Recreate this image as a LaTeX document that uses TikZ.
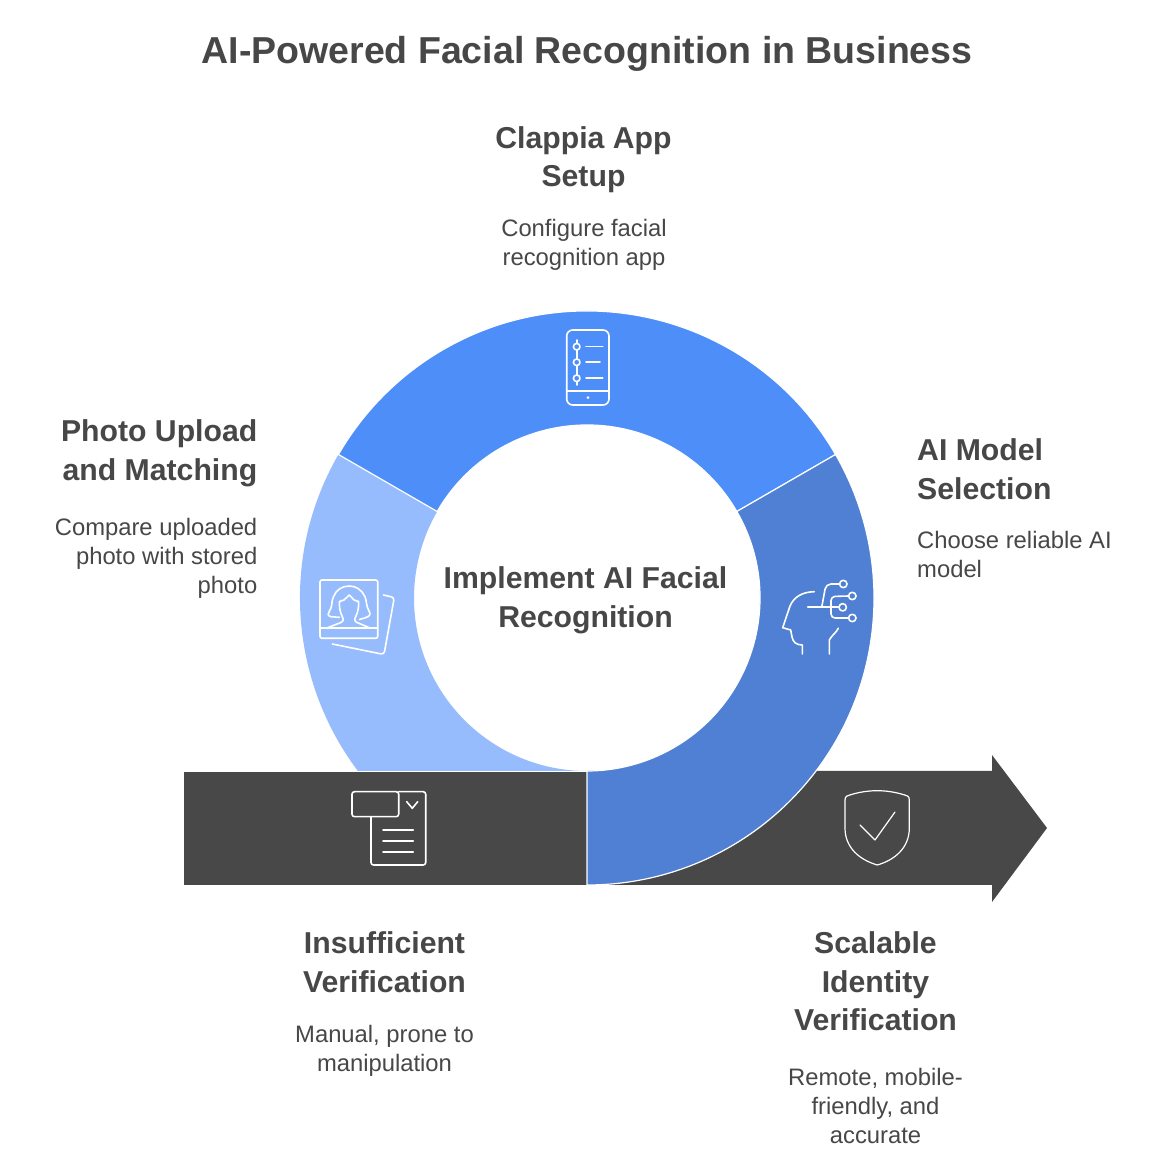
\documentclass[tikz,border=0pt]{standalone}
\usepackage{fontspec}
\setmainfont{Liberation Sans}
\definecolor{fcText}{HTML}{474747}
\definecolor{fcDark}{HTML}{484848}
\definecolor{fcTop}{HTML}{4E8EF9}
\definecolor{fcLeft}{HTML}{97BCFE}
\definecolor{fcRight}{HTML}{4F80D3}
\usetikzlibrary{positioning}
\tikzset{
  headtext/.style={font=\fontsize{30.2}{38.5}\selectfont\bfseries, text=fcText, inner sep=0pt},
  desctext/.style={font=\fontsize{23.8}{29}\selectfont, text=fcText, inner sep=0pt},
  iconline/.style={draw=white, line width=1.6pt, line cap=round, line join=round}
}
\begin{document}
\begin{tikzpicture}[x=1pt, y=1pt]
  \useasboundingbox (0,0) rectangle (1170,1172);
  \fill[white] (0,0) rectangle (1170,1172);
  % ring
  \fill[fcLeft] (587,574) ++(150:287) arc (150:270:287) -- ++(0,114) arc (270:150:173) -- cycle;
  \filldraw[fcTop, draw=white, line width=1.2pt] (587,574) ++(30:287) arc (30:150:287) -- ++(-30:114) arc (150:30:173) -- cycle;
  % bar and arrow
  \fill[fcDark] (587,401) -- (992,401) -- (992,417) -- (1047,344) -- (992,270) -- (992,287) -- (587,287) -- cycle;
  \filldraw[fcDark, draw=white, line width=0.4pt] (183,287) rectangle (587,401);
  \filldraw[fcRight, draw=white, line width=1.2pt] (587,574) ++(270:287) arc (-90:30:287) -- ++(210:114) arc (30:-90:173) -- cycle;
  % titles
  \node[font=\fontsize{37.5}{46}\selectfont\bfseries, text=fcText, inner sep=0pt] (title) at (587,1118) {AI-Powered Facial Recognition in Business};
  \node[headtext, align=center] (setuphead) at (583.5,1012.5) {Clappia App\\Setup};
  \node[desctext, align=center] (setupdesc) at (584,927) {Configure facial\\recognition app};
  \node[headtext, align=right, anchor=east] (photohead) at (257.5,718.5) {Photo Upload\\and Matching};
  \node[desctext, align=right, anchor=east] (photodesc) at (257.5,613.5) {Compare uploaded\\photo with stored\\photo};
  \node[headtext, align=left, anchor=west] (modelhead) at (917,703) {AI Model\\Selection};
  \node[desctext, align=left, anchor=west] (modeldesc) at (917,617) {Choose reliable AI\\model};
  \node[headtext, align=center] (centerhead) at (585.5,571.5) {Implement AI Facial\\Recognition};
  \node[headtext, align=center] (manualhead) at (384.5,210) {Insufficient\\Verification};
  \node[desctext, align=center] (manualdesc) at (384.5,121) {Manual, prone to\\manipulation};
  \node[headtext, align=center] (scalehead) at (875.5,190.5) {Scalable\\Identity\\Verification};
  \node[desctext, align=center] (scaledesc) at (875.5,66) {Remote, mobile-\\friendly, and\\accurate};
  % icons, page pixels
  \begin{scope}[shift={(0,1172)}, y=-1pt]
    % phone
    \draw[iconline, rounded corners=6pt] (566.7,330) -- (609,330) -- (609,405) -- (566.7,405) -- cycle;
    \draw[iconline] (566.7,391) -- (609,391);
    \fill[white] (588,397.7) circle (1.5);
    \draw[iconline] (576.7,340) -- (576.7,343.4) (576.7,350) -- (576.7,359) (576.7,365.6) -- (576.7,375) (576.7,381.6) -- (576.7,385);
    \foreach \y in {346.7,362.3,378.3} \draw[iconline] (576.7,\y) circle (3.3);
    \draw[iconline] (586,346.7) -- (602.7,346.7) (586,362.3) -- (600,362.3) (586,378.3) -- (602.7,378.3);
    % photo
    \draw[iconline, rounded corners=2pt] (320,580) -- (377.7,580) -- (377.7,638.3) -- (320,638.3) -- cycle;
    \draw[iconline] (320,628.3) -- (377.7,628.3);
    \draw[iconline, rounded corners=3pt] (383.5,595) -- (394.3,597.5) -- (384,654.5) -- (332.3,644);
    \draw[iconline] (339.3,617.3) -- (331,616.7) .. controls (327,616) and (328,613) .. (329.5,611) .. controls (333,606) and (331,601) .. (333.5,596.7) .. controls (336,590) and (342,586) .. (349.3,586) .. controls (356,586) and (362,590) .. (365,596.7) .. controls (367,602) and (366,606) .. (369,611) .. controls (371,614) and (370,616) .. (366,617.5) -- (359.5,619.5);
    \draw[iconline] (326,628.3) -- (341,622.5) .. controls (344,621) and (343.5,619) .. (342,616) .. controls (340,612) and (339,606) .. (339.5,601.5) -- (344,600) -- (349.3,595) -- (354,600) -- (358.5,601.5) .. controls (359,606) and (358,612) .. (356,616) .. controls (354.5,619) and (354,621) .. (357,622.5) -- (370.7,628.3);
    % head
    \draw[iconline] (814.3,591.7) .. controls (802,592) and (794,597) .. (790,606) -- (782.7,627.7) -- (790.7,630) -- (792,637) .. controls (793,642) and (796,645) .. (802.3,645) -- (802.3,654);
    \draw[iconline] (838.3,628.3) .. controls (836,633) and (832,635) .. (829.3,640) -- (829.3,654);
    \draw[iconline] (807.7,607.3) -- (838.9,607.3);
    \draw[iconline, rounded corners=5pt] (821.7,607.3) -- (826,584) -- (839.6,584);
    \draw[iconline, rounded corners=4pt] (848.6,596) -- (831,596.5) -- (831,618) -- (848.6,618);
    \draw[iconline] (842.7,607.3) circle (3.7) (843.3,584) circle (3.7) (852.3,596) circle (3.7) (852.3,618) circle (3.7);
    % form
    \draw[iconline, rounded corners=2.5pt] (398.7,791.7) -- (352,791.7) -- (352,816.7) -- (398.7,816.7) -- cycle;
    \draw[iconline, rounded corners=2.5pt] (398.7,791.7) -- (425.7,791.7) -- (425.7,865) -- (371,865) -- (371,816.7);
    \draw[iconline] (406.7,801.7) -- (412.3,808.3) -- (417.7,801.7);
    \draw[iconline] (383,830) -- (413.3,830) (383,841) -- (413.3,841) (383,852) -- (413.3,852);
    % shield
    \draw[iconline, line width=1.2pt] (877.3,790.7) .. controls (866,790.7) and (855,793) .. (847,796) .. controls (845.5,797) and (845,798) .. (845,800) -- (845,828) .. controls (845,848) and (860,860) .. (877.3,865) .. controls (894.6,860) and (909.3,848) .. (909.3,828) -- (909.3,800) .. controls (909.3,798) and (909,797) .. (907.5,796) .. controls (899.5,793) and (888.5,790.7) .. (877.3,790.7) -- cycle;
    \draw[iconline, line width=1.2pt] (860,825) -- (875,840) -- (895,812);
  \end{scope}
\end{tikzpicture}
\end{document}
